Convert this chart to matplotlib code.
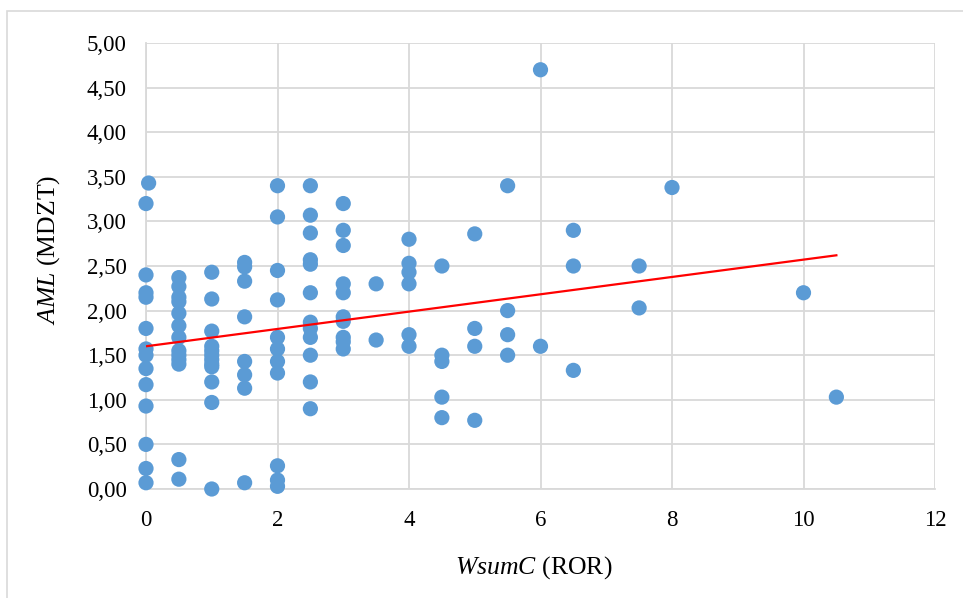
import numpy as np
import matplotlib.pyplot as plt
from matplotlib.patches import Rectangle
from matplotlib.ticker import FuncFormatter, MultipleLocator

plt.rcParams['font.family'] = ['Liberation Serif', 'DejaVu Serif']
plt.rcParams['mathtext.fontset'] = 'custom'
plt.rcParams['mathtext.rm'] = 'Liberation Serif'
plt.rcParams['mathtext.it'] = 'Liberation Serif:italic'

################### DATA : WsumC (ROR) vs AML (MDZT)

wsumc_levels = [0, 0.04, 0.5, 1, 1.5, 2, 2.5, 3, 3.5, 4, 4.5, 5, 5.5, 6, 6.5, 7.5, 8, 10, 10.5]

aml_by_level = [
    [3.20, 2.40, 2.20, 2.15, 1.80, 1.57, 1.50, 1.35, 1.17, 0.93, 0.50, 0.23, 0.07],
    [3.43],
    [2.37, 2.27, 2.15, 2.10, 1.97, 1.83, 1.70, 1.55, 1.50, 1.45, 1.40, 0.33, 0.11],
    [2.43, 2.13, 1.77, 1.60, 1.55, 1.50, 1.45, 1.40, 1.37, 1.20, 0.97, 0.00],
    [2.54, 2.49, 2.33, 1.93, 1.43, 1.28, 1.13, 0.07],
    [3.40, 3.05, 2.45, 2.12, 1.70, 1.57, 1.43, 1.30, 0.26, 0.10, 0.03],
    [3.40, 3.07, 2.87, 2.57, 2.52, 2.20, 1.87, 1.80, 1.70, 1.50, 1.20, 0.90],
    [3.20, 2.90, 2.73, 2.30, 2.20, 1.93, 1.88, 1.70, 1.65, 1.57],
    [2.30, 1.67],
    [2.80, 2.53, 2.43, 2.30, 1.73, 1.60],
    [2.50, 1.50, 1.43, 1.03, 0.80],
    [2.86, 1.80, 1.60, 0.77],
    [3.40, 2.00, 1.73, 1.50],
    [4.70, 1.60],
    [2.90, 2.50, 1.33],
    [2.50, 2.03],
    [3.38],
    [2.20],
    [1.03],
]

# linear trend (Excel trendline)
trend_x = [0, 10.5]
trend_y = [1.60, 2.62]

x_ticks = [0, 2, 4, 6, 8, 10, 12]

wsumc = np.concatenate([[lv] * len(v) for lv, v in zip(wsumc_levels, aml_by_level)])
aml = np.concatenate(aml_by_level)

################### PLOT

fig = plt.figure(figsize=(9.63, 5.98), dpi=100)
ax = fig.add_axes([146 / 963, 1 - 489 / 598, 789 / 963, 446 / 598])

# outer chart frame
fig.patches.append(Rectangle((7 / 963, -0.1), 1.1, 1 - 11 / 598 + 0.1, transform=fig.transFigure,
                             fill=False, edgecolor='#d9d9d9', linewidth=1.2))

ax.scatter(wsumc, aml, s=120, color='#5b9bd5', edgecolors='none', zorder=3, clip_on=False)
ax.plot(trend_x, trend_y, color='#ff0000', linewidth=1.6, zorder=4)

ax.set_xlim(0, 12)
ax.set_ylim(0, 5)
ax.set_xticks(x_ticks)
ax.yaxis.set_major_locator(MultipleLocator(0.5))
ax.yaxis.set_major_formatter(FuncFormatter(lambda v, p: f'{v:.2f}'.replace('.', ',')))
ax.grid(True, color='#d9d9d9', linewidth=1.3)
ax.set_axisbelow(True)
for side in ['top', 'right']:
    ax.spines[side].set_visible(False)
for side in ['left', 'bottom']:
    ax.spines[side].set_color('#d9d9d9')
    ax.spines[side].set_linewidth(1.3)
ax.tick_params(axis='both', length=0, labelsize=16.5, colors='black')
ax.tick_params(axis='y', pad=14)
ax.tick_params(axis='x', pad=15)

ax.set_xlabel(r'$\mathit{WsumC}$ (ROR)', fontsize=18.5)
ax.set_ylabel(r'$\mathit{AML}$ (MDZT)', fontsize=18.5)
ax.xaxis.set_label_coords(0.492, -0.145)
ax.yaxis.set_label_coords(-0.106, 0.536)

fig.savefig('out.png', dpi=100)
